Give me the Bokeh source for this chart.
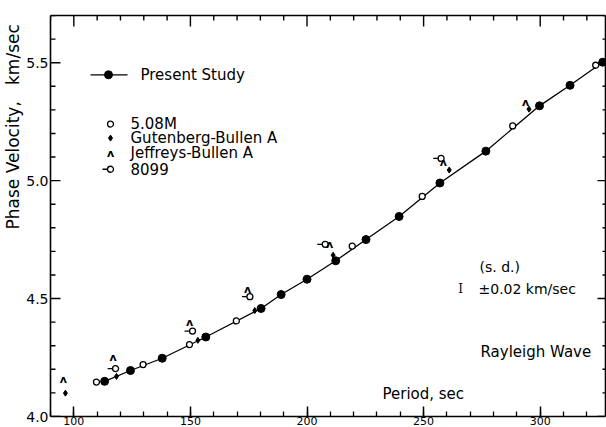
from bokeh.plotting import figure
from bokeh.models import (Range1d, LinearAxis, SingleIntervalTicker, PrintfTickFormatter, Label)
from bokeh.embed import file_html
from bokeh.resources import INLINE
from bokeh.core.properties import value

# ---------------- data ----------------
present_period = [113.2, 124.3, 137.9, 156.6, 180.3, 188.9, 200.0, 212.3, 225.3, 239.5, 257.0, 276.7, 299.7, 312.8, 326.8]
present_vel = [4.149, 4.195, 4.247, 4.337, 4.458, 4.517, 4.582, 4.660, 4.750, 4.848, 4.990, 5.125, 5.317, 5.404, 5.502]

m508_period = [109.7, 129.7, 149.6, 169.7, 219.4, 249.4, 288.2, 323.8]
m508_vel = [4.146, 4.220, 4.305, 4.405, 4.722, 4.933, 5.232, 5.489]

gb_period = [96.4, 118.3, 153.2, 177.6, 211.2, 261.0, 295.2]
gb_vel = [4.099, 4.170, 4.323, 4.449, 4.684, 5.045, 5.303]

jb_period = [95.5, 116.8, 149.6, 174.5, 209.7, 258.5, 293.7]
jb_vel = [4.156, 4.250, 4.400, 4.537, 4.730, 5.078, 5.330]

s8099_period = [117.9, 150.9, 175.5, 207.8, 257.5]
s8099_vel = [4.203, 4.362, 4.508, 4.730, 5.094]

legend_labels = ["Present Study", "5.08M", "Gutenberg-Bullen A", "Jeffreys-Bullen A", "8099"]

# ---------------- layout ----------------
X_START, X_END = 90, 328
Y_START, Y_END = 4.0, 5.70
W, H = 606, 427
FL, FR, FT, FB = 50, 605, 15, 414
FONT = "DejaVu Sans"
XPX = (X_END - X_START) / (FR - FL)   # data units per pixel
YPX = (Y_END - Y_START) / (FB - FT)


def dx(px):
    return X_START + (px - FL) * XPX


def dy(py):
    return Y_START + (FB - py) * YPX


# the left margin is sized by the left axis itself (tick labels + title ~ 50 px)
p = figure(width=W, height=H, output_backend="svg", toolbar_location=None,
           x_range=Range1d(X_START, X_END), y_range=Range1d(Y_START, Y_END),
           x_axis_type=None, y_axis_type=None,
           min_border_left=30, min_border_right=W - FR, min_border_top=FT, min_border_bottom=0)
p.outline_line_color = None
p.background_fill_color = "white"
p.border_fill_color = "white"


def make_axis(ticker, labels, tick_in):
    ax = LinearAxis(ticker=ticker,
                    major_tick_in=tick_in, major_tick_out=0, minor_tick_in=tick_in // 2, minor_tick_out=0,
                    axis_line_width=1.6, axis_line_color="black",
                    major_tick_line_width=1.5, major_tick_line_color="black",
                    minor_tick_line_width=1.3, minor_tick_line_color="black")
    if labels:
        if labels == "y":
            ax.formatter = PrintfTickFormatter(format="%.1f")
        ax.major_label_text_font = FONT
        ax.major_label_text_font_size = "14px" if labels == "y" else "11px"
        ax.major_label_text_color = "black"
        ax.major_label_standoff = 2 if labels == "y" else 0
    else:
        ax.major_label_text_font_size = "1px"
        ax.major_label_text_color = None
        ax.major_label_standoff = 0
    return ax


p.add_layout(make_axis(SingleIntervalTicker(interval=50, num_minor_ticks=5), "x", 10), "below")
p.add_layout(make_axis(SingleIntervalTicker(interval=50), False, 0), "above")
ly = make_axis(SingleIntervalTicker(interval=0.5), "y", 0)
# leading no-break spaces push the rotated title towards the top, as in the figure
ly.axis_label = "\u00a0" * 33 + "Phase Velocity,\u00a0\u00a0\u00a0km/sec"
ly.axis_label_text_font = FONT
ly.axis_label_text_font_size = "17px"
ly.axis_label_text_font_style = "normal"
ly.axis_label_text_color = "black"
ly.axis_label_standoff = 0
p.add_layout(ly, "left")
p.add_layout(make_axis(SingleIntervalTicker(interval=0.5), False, 0), "right")

xt = [X_START + 10 * i for i in range(int((X_END - X_START) // 10) + 1)]
yt = [round(Y_START + 0.1 * i, 2) for i in range(int(round((Y_END - Y_START) / 0.1)) + 1)]
x_len = [11 if v % 50 == 0 else 5 for v in xt]
y_len = [10 if abs(v * 2 - round(v * 2)) < 1e-6 else 5 for v in yt]
tick_kw = dict(line_color="black", line_width=1.4)

# top ticks (inward)
p.segment(x0=xt, y0=[Y_END] * len(xt), x1=xt, y1=[Y_END - L * YPX for L in x_len], **tick_kw)
# left ticks (inward): dash markers centred on the frame edge
p.scatter(x=[X_START] * len(yt), y=yt, marker="dash", size=[2 * L for L in y_len],
          line_color="black", line_width=1.4)

# ---------------- data marks ----------------
p.line(present_period, present_vel, line_color="black", line_width=1.3)

# 8099: open circle with a short dash at its left
seg_x0 = [v - 3.4 for v in s8099_period]
seg_x1 = [v - 1.3 for v in s8099_period]
p.segment(x0=seg_x0, y0=s8099_vel, x1=seg_x1, y1=s8099_vel, line_color="black", line_width=1.3)
p.scatter(s8099_period, s8099_vel, marker="circle", size=6, fill_color="white",
          line_color="black", line_width=1.3)
p.scatter(m508_period, m508_vel, marker="circle", size=6, fill_color="white",
          line_color="black", line_width=1.3)
p.scatter(gb_period, gb_vel, marker="diamond", size=6, fill_color="black", line_color="black")
p.text(jb_period, jb_vel, text=["ʌ"] * len(jb_period), text_font=value(FONT),
       text_font_size="11px", text_font_style="bold", text_align="center",
       text_baseline="middle", text_color="black")
p.scatter(present_period, present_vel, marker="circle", size=8, fill_color="black", line_color="black")

# ---------------- legend (hand placed as in the figure) ----------------
p.line([dx(90), dx(127)], [dy(74), dy(74)], line_color="black", line_width=1.3)
p.scatter([dx(108)], [dy(74)], marker="circle", size=8, fill_color="black", line_color="black")
p.scatter([dx(110)], [dy(123)], marker="circle", size=6, fill_color="white", line_color="black", line_width=1.3)
p.scatter([dx(110)], [dy(137)], marker="diamond", size=6, fill_color="black", line_color="black")
p.text([dx(110)], [dy(152)], text=["ʌ"], text_font=value(FONT), text_font_size="11px",
       text_font_style="bold", text_align="center", text_baseline="middle", text_color="black")
p.segment(x0=[dx(102)], y0=[dy(168)], x1=[dx(107)], y1=[dy(168)], line_color="black", line_width=1.3)
p.scatter([dx(110)], [dy(168)], marker="circle", size=6, fill_color="white", line_color="black", line_width=1.3)

leg_pos = [(140, 74), (130, 123), (130, 137), (130, 152), (130, 168)]
for txt, (lx, ly_) in zip(legend_labels, leg_pos):
    p.add_layout(Label(x=dx(lx), y=dy(ly_), text=txt, text_font=FONT, text_font_size="15px",
                       text_align="left", text_baseline="middle", text_color="black"))


def add_text(txt, px, py, size="15px", align="left", font=FONT):
    p.add_layout(Label(x=dx(px), y=dy(py), text=txt, text_font=font, text_font_size=size,
                       text_align=align, text_baseline="middle", text_color="black"))


add_text("Period, sec", 382, 392)
add_text("Rayleigh Wave", 480, 350)
add_text("(s. d.)", 479, 265, size="14px")
add_text("I", 460, 287, size="12px", align="center", font="DejaVu Serif")
add_text("±0.02 km/sec", 478, 287, size="14px")

# right ticks (inward), drawn last
p.segment(x0=[X_END] * len(yt), y0=yt, x1=[X_END - (L - 2) * XPX for L in y_len], y1=yt, **tick_kw)

open("out.html", "w").write(file_html(p, INLINE))
